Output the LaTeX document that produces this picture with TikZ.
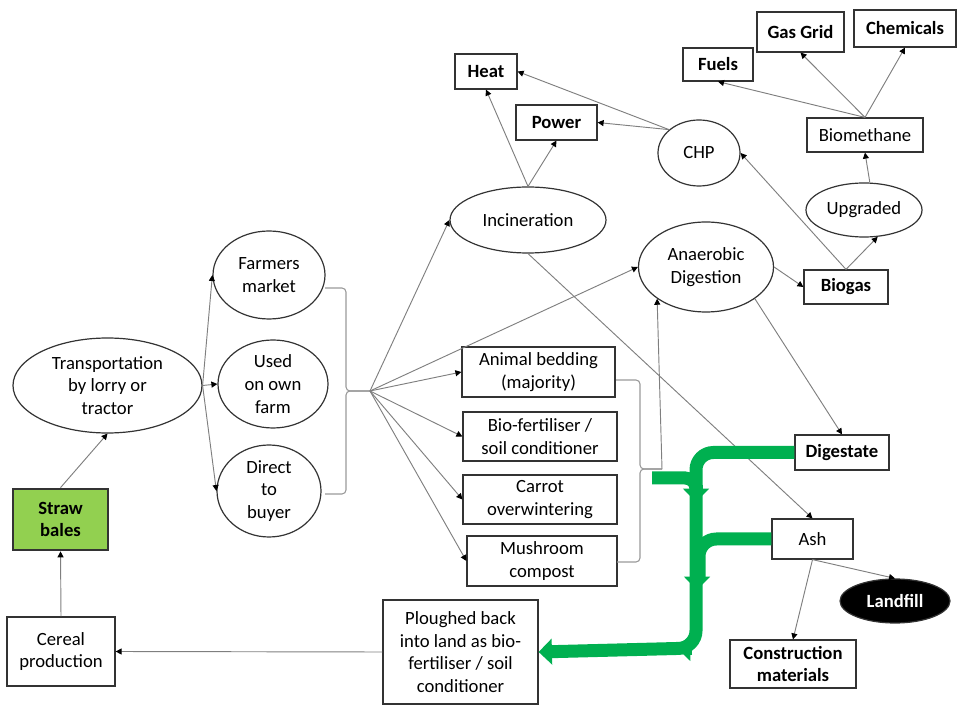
\documentclass[tikz,border=0pt]{standalone}
\usepackage{fontspec}
\setmainfont{Carlito}
\usetikzlibrary{shapes.geometric,arrows.meta}
\newlength\mypx \setlength\mypx{0.75pt}
\definecolor{grn}{HTML}{00B050}
\definecolor{strawgreen}{HTML}{92D050}
\definecolor{lin}{HTML}{7F7F7F}
\begin{document}
\begin{tikzpicture}[x=0.75pt,y=-0.75pt,
 every node/.style={font=\fontsize{14}{17}\selectfont, align=center, inner sep=0pt},
 bold/.style={font=\fontsize{14}{17}\selectfont\bfseries},
 box/.style={draw=black!80, line width=0.9pt, rectangle},
 ell/.style={draw=black!80, line width=0.9pt, ellipse},
 conn/.style={draw=lin, line width=0.7pt, -{Triangle[length=4.5pt,width=4.5pt,color=black]}},
 brc/.style={draw=lin!80, line width=0.8pt, rounded corners=3pt},
 gline/.style={draw=grn, line width=13\mypx, rounded corners=13pt},
 gtip/.style={draw=grn, line width=13\mypx, -{Triangle[width=19pt,length=10pt]}},
]
\useasboundingbox (0,0) rectangle (957,705);

% left column
\node[box, bold, fill=strawgreen, line width=2pt, minimum width=95\mypx, minimum height=61\mypx] (straw) at (60.5,519.5) {Straw\\bales};
\node[box, minimum width=108\mypx, minimum height=69\mypx] (cereal) at (61,651.5) {Cereal\\production};
\node[ell, minimum width=189\mypx, minimum height=95\mypx] (trans) at (107.5,385.5) {Transportation\\by lorry or\\tractor};
\node[ell, minimum width=112\mypx, minimum height=88\mypx] (farm) at (269,275) {Farmers\\market};
\node[ell, minimum width=110\mypx, minimum height=88\mypx] (own) at (273,384) {Used\\on own\\farm};
\node[ell, minimum width=104\mypx, minimum height=92\mypx] (direct) at (269,491) {Direct\\to\\buyer};

% middle
\node[ell, minimum width=156\mypx, minimum height=66\mypx] (incin) at (528,220) {Incineration};
\node[box, bold, minimum width=62\mypx, minimum height=35\mypx] (heat) at (486,71.5) {Heat};
\node[box, bold, minimum width=81\mypx, minimum height=35\mypx] (power) at (556.5,122.5) {Power};
\node[box, minimum width=153\mypx, minimum height=50\mypx] (animal) at (538.5,372) {Animal bedding\\(majority)};
\node[box, minimum width=154\mypx, minimum height=49\mypx] (biofert) at (540,436.5) {Bio-fertiliser /\\soil conditioner};
\node[box, minimum width=154\mypx, minimum height=49\mypx] (carrot) at (540,499.5) {Carrot\\overwintering};
\node[box, minimum width=150\mypx, minimum height=50\mypx] (mush) at (542,561) {Mushroom\\compost};
\node[box, minimum width=155\mypx, minimum height=104\mypx] (plough) at (460.5,652) {Ploughed back\\into land as bio-\\fertiliser / soil\\conditioner};

% right
\node[ell, minimum width=82\mypx, minimum height=66\mypx] (chp) at (699,153) {CHP};
\node[box, bold, minimum width=70\mypx, minimum height=33\mypx] (fuels) at (718,64.5) {Fuels};
\node[box, bold, minimum width=87\mypx, minimum height=40\mypx] (gasgrid) at (800.5,32) {Gas Grid};
\node[box, bold, minimum width=102\mypx, minimum height=37\mypx] (chem) at (905,28.5) {Chemicals};
\node[box, minimum width=116\mypx, minimum height=34\mypx] (biometh) at (865,135) {Biomethane};
\node[ell, minimum width=116\mypx, minimum height=54\mypx] (upgr) at (864,210) {Upgraded};
\node[ell, minimum width=135\mypx, minimum height=90\mypx] (ad) at (706,267) {Anaerobic\\Digestion};
\node[box, bold, minimum width=84\mypx, minimum height=34\mypx] (biogas) at (846,287) {Biogas};
\node[box, bold, minimum width=94\mypx, minimum height=35\mypx] (digest) at (842,452.5) {Digestate};
\node[box, minimum width=81\mypx, minimum height=40\mypx] (ash) at (812.5,539) {Ash};
\node[ell, bold, fill=black, text=white, minimum width=110\mypx, minimum height=44\mypx] (landfill) at (895,601) {Landfill};
\node[box, bold, minimum width=126\mypx, minimum height=48\mypx] (constr) at (793,664) {Construction\\materials};

% braces and fan points
\coordinate (fan1) at (370,391);
\coordinate (fan2) at (662,469);
\coordinate (gstart) at (652,478);
\draw[brc] (325,288) -- (346,288) -- (346,391) -- (fan1);
\draw[brc] (325,494) -- (346,494) -- (346,391) -- (fan1);
\draw[brc] (616,380) -- (640,380) -- (640,469) -- (fan2);
\draw[brc] (617,562) -- (640,562) -- (640,469) -- (fan2);

% thin connectors
\draw[conn] (cereal.north) -- (straw.south);
\draw[conn] (straw.north) -- (trans.south);
\draw[conn] (trans.east) -- (farm.west);
\draw[conn] (trans.east) -- (own.west);
\draw[conn] (trans.east) -- (direct.west);
\draw[conn] (fan1) -- (incin.west);
\draw[conn] (fan1) -- (ad.west);
\draw[conn] (fan1) -- (animal.west);
\draw[conn] (fan1) -- (biofert.west);
\draw[conn] (fan1) -- (carrot.west);
\draw[conn] (fan1) -- (mush.west);
\draw[conn] (incin.north) -- (heat.south);
\draw[conn] (incin.north) -- (power.south);
\draw[conn] (chp.142) -- (heat.east);
\draw[conn] (chp.142) -- (power.east);
\draw[conn] (biogas.north) -- (chp.east);
\draw[conn] (biogas.north) -- (upgr.-63);
\draw[conn] (upgr.78) -- (biometh.south);
\draw[conn] (biometh.north) -- (fuels.south);
\draw[conn] (biometh.north) -- (gasgrid.south);
\draw[conn] (biometh.north) -- (chem.south);
\draw[conn] (ad.east) -- (biogas.west);
\draw[conn] (ad.-33) -- (digest.north);
\draw[conn] (incin.south) -- (ash.north);
\draw[conn] (ash.south) -- (constr.north);
\draw[conn] (ash.south) -- (landfill.north);
\draw[conn] (plough.west) -- (cereal.east);
\draw[conn] (fan2) -- (ad.213);

% green flows
\coordinate (gc) at (696,648);
\draw[gline, rounded corners=8pt] (gstart) -| (696,492);
\draw[gline, -{Triangle[width=19pt,length=10pt]}] (digest.west) -| (gc) -- (plough.east);
\draw[gline] (ash.west) -| (699,580);
\draw[gtip] (696,485) -- (696,502);
\draw[gtip] (697,572) -- (697,590);
\draw[gtip] (692,648) -- (677,648);
\end{tikzpicture}
\end{document}
